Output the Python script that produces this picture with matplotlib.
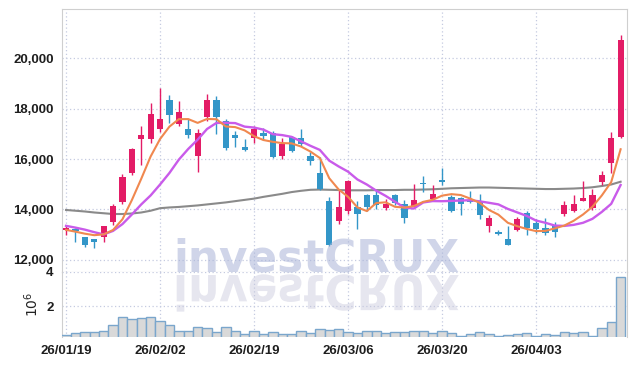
import numpy as np
import pandas as pd
import matplotlib
matplotlib.use("Agg")
import matplotlib.pyplot as plt
from matplotlib.textpath import TextPath
from matplotlib.patches import PathPatch
from matplotlib.font_manager import FontProperties
from matplotlib.transforms import Affine2D

# daily OHLC (trading days)
opens = [13200, 13230, 12900, 12820, 12900, 13500, 14300, 15450, 16800, 16800,
         17200, 18350, 17370, 17180, 16130, 17650, 18350, 17520, 16960, 16470,
         16850, 17030, 17050, 16130, 16880, 16820, 16120, 15450, 14350, 13540,
         13950, 14080, 14590, 14590, 14070, 14590, 14210, 14080, 15040, 14410,
         15180, 14510, 14470, 14350, 14280, 13350, 13090, 12830, 13190, 13840,
         13450, 13260, 13360, 13810, 13940, 14350, 14040, 15090, 15840, 16890]
highs = [13400, 13250, 12920, 12830, 13350, 14230, 15400, 16450, 17300, 18220,
         18810, 18550, 18300, 17570, 17180, 18580, 18480, 17570, 17100, 16790,
         17310, 17240, 17110, 16820, 16900, 17180, 16290, 16070, 14500, 14760,
         15170, 14340, 14630, 14760, 14410, 14620, 14370, 15020, 15310, 14980,
         15640, 14560, 14510, 14720, 14610, 13780, 13190, 13360, 13720, 13950,
         13620, 13650, 13490, 14330, 14560, 15130, 14800, 15510, 17070, 20900]
lows = [13000, 12700, 12530, 12470, 12700, 13390, 14200, 15350, 15750, 16630,
        17070, 17440, 17300, 16850, 15480, 17500, 17000, 16370, 16460, 16300,
        16650, 16760, 16030, 16000, 16260, 16520, 15770, 14780, 12560, 13410,
        13810, 13220, 13940, 14020, 13960, 14170, 13480, 14040, 14700, 14360,
        14960, 13900, 13790, 14250, 13620, 13100, 12970, 12600, 13130, 12990,
        13060, 12990, 12890, 13750, 13900, 14330, 13980, 14960, 15450, 16840]
closes = [13250, 13150, 12600, 12720, 13340, 14120, 15270, 16400, 16950, 17770,
          17570, 17740, 17880, 16960, 17020, 18350, 17680, 16440, 16840, 16370,
          17200, 16920, 16080, 16590, 16310, 16580, 15920, 14810, 12580, 14080,
          15130, 13810, 14080, 14170, 14230, 14240, 13650, 14390, 15000, 14630,
          15070, 13950, 14210, 14300, 13790, 13650, 13020, 12600, 13620, 13250,
          13220, 13060, 13100, 14170, 14200, 14470, 14590, 15350, 16820, 20710]
# volume in millions
volumes = [0.34, 0.42, 0.48, 0.48, 0.54, 0.88, 1.36, 1.26, 1.30, 1.36,
           1.12, 0.88, 0.58, 0.54, 0.76, 0.71, 0.48, 0.76, 0.54, 0.36,
           0.54, 0.36, 0.48, 0.36, 0.36, 0.54, 0.42, 0.64, 0.59, 0.66,
           0.48, 0.42, 0.54, 0.54, 0.42, 0.48, 0.48, 0.58, 0.58, 0.42,
           0.54, 0.42, 0.28, 0.36, 0.48, 0.36, 0.28, 0.32, 0.36, 0.42,
           0.28, 0.36, 0.32, 0.48, 0.42, 0.48, 0.28, 0.70, 1.08, 3.69]
# first values of the averages depend on days before the window
ma5_head = [13190, 13120, 13040, 12980]
ma10_head = [13350, 13280, 13200, 13100, 13010, 13150, 13420, 13800, 14200]
# long (60 day) average
ma60 = [13980, 13950, 13920, 13880, 13850, 13820, 13820, 13840, 13880, 13950,
        14050, 14080, 14100, 14130, 14160, 14200, 14240, 14280, 14330, 14380,
        14430, 14500, 14560, 14620, 14690, 14740, 14780, 14790, 14780, 14770,
        14760, 14760, 14760, 14770, 14770, 14770, 14780, 14780, 14790, 14800,
        14820, 14840, 14850, 14860, 14870, 14870, 14860, 14850, 14840, 14830,
        14820, 14810, 14810, 14820, 14830, 14850, 14880, 14930, 14990, 15100]
tick_pos = [0, 10, 20, 30, 40, 50]
tick_labels = ["26/01/19", "26/02/02", "26/02/19", "26/03/06", "26/03/20", "26/04/03"]

RED = "#e31c66"
BLUE = "#3396c8"
GRID = "#c5cbe0"
FONT = "Liberation Sans"
tick_font = dict(fontsize=9.5, family=FONT, fontweight="bold", color="#1e1e1e")

o = np.array(opens, float)
h = np.array(highs, float)
l = np.array(lows, float)
c = np.array(closes, float)
x = np.arange(len(c))

ma5 = pd.Series(c).rolling(5).mean().values
ma5[:4] = ma5_head
ma10 = pd.Series(c).rolling(10).mean().values
ma10[:9] = ma10_head

W, H = 635, 366
fig = plt.figure(figsize=(W / 100, H / 100), dpi=100)
ax = fig.add_axes([62 / W, 1 - 272 / H, 565 / W, 263 / H])
axv = fig.add_axes([62 / W, 1 - 337 / H, 565 / W, 65 / H], sharex=ax)

colors = [RED if cc >= oo else BLUE for oo, cc in zip(o, c)]
ax.vlines(x, l, h, colors=colors, lw=1.0, zorder=3)
body = np.maximum(np.abs(c - o), 40)
ax.bar(x, body, bottom=np.minimum(o, c), width=0.66, color=colors, zorder=4)

ax.plot(x, ma60, color="#8a8a8a", lw=1.5, zorder=2)
ax.plot(x, ma10, color="#c95bea", lw=1.7, zorder=5)
ax.plot(x, ma5, color="#f0884f", lw=1.5, zorder=6)

ax.set_xlim(-0.43, 59.68)
ax.set_ylim(11520, 21950)
yt = [12000, 14000, 16000, 18000, 20000]
ax.set_yticks(yt)
ax.set_yticklabels([f"{v:,}" for v in yt], **tick_font)
ax.set_xticks(tick_pos)
ax.tick_params(axis="x", labelbottom=False, length=0)
ax.tick_params(axis="y", length=0, pad=6)
ax.grid(True, ls=(0, (1, 2)), color=GRID, lw=0.9, zorder=0)
for s in ax.spines.values():
    s.set_color("#cfcfcf")
ax.spines["bottom"].set_color("#c4c4c4")

axv.bar(x, volumes, width=1.0, color="#d9d9d9", edgecolor="#7aa6cc", lw=1.0, zorder=3)
axv.set_ylim(0.2, 4.0)
axv.set_yticks([2, 4])
axv.set_yticklabels(["2", "4"], **tick_font)
axv.set_xticks(tick_pos)
axv.set_xticklabels(tick_labels, **tick_font)
axv.tick_params(length=0)
axv.tick_params(axis="x", pad=6)
axv.tick_params(axis="y", pad=6)
axv.grid(True, ls=(0, (1, 2)), color=GRID, lw=0.9, zorder=0)
axv.set_ylabel("$10^6$", fontsize=10, color="#222222")
axv.yaxis.set_label_coords(-0.037, 0.5)
axv.spines["top"].set_visible(False)
axv.spines["bottom"].set_visible(False)
axv.spines["left"].set_color("#cfcfcf")
axv.spines["right"].set_color("#cfcfcf")

# watermark, with its mirror image below
wm_px = 43.8
fig.text(173 / W, 1 - 271 / H, "investCRUX", fontsize=wm_px * 72 / 100,
         family="DejaVu Sans", fontweight="bold", color="#aab4d8", alpha=0.55,
         ha="left", va="baseline", zorder=10)
tp = TextPath((0, 0), "investCRUX", size=wm_px,
              prop=FontProperties(family="DejaVu Sans", weight="bold"))
flip_tr = Affine2D().scale(1, -1.1).translate(173, H - 275)
fig.add_artist(PathPatch(tp, transform=flip_tr, facecolor="#c8c8dc", edgecolor="none",
                         alpha=0.45, zorder=10))

fig.savefig("out.png", dpi=100)
